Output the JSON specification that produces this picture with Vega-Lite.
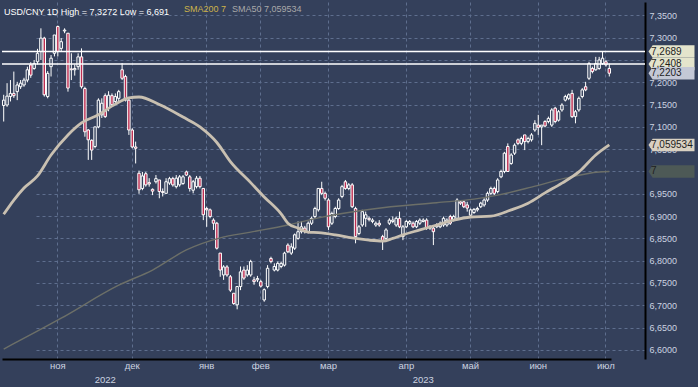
{
  "$schema": "https://vega.github.io/schema/vega-lite/v6.json",
  "width": 643,
  "height": 357,
  "autosize": "none",
  "padding": {"left": 2, "top": 2, "right": 53, "bottom": 28},
  "background": "#34405b",
  "view": {"stroke": null},
  "config": {
    "font": "Liberation Sans",
    "axis": {"title": null}
  },
  "title": {
    "text": "USD/CNY 1D High = 7,3272 Low = 6,691",
    "anchor": "start",
    "frame": "group",
    "offset": -22,
    "baseline": "alphabetic",
    "fontSize": 9,
    "fontWeight": "normal",
    "color": "#ffffff",
    "font": "Liberation Sans",
    "dx": 2
  },
  "datasets": {
    "ohlc": [
      {"date":"2022-10-10","open":7.148,"high":7.172,"low":7.112,"close":7.160},
      {"date":"2022-10-11","open":7.149,"high":7.198,"low":7.145,"close":7.169},
      {"date":"2022-10-12","open":7.168,"high":7.205,"low":7.157,"close":7.175},
      {"date":"2022-10-13","open":7.175,"high":7.224,"low":7.165,"close":7.170},
      {"date":"2022-10-14","open":7.179,"high":7.201,"low":7.160,"close":7.194},
      {"date":"2022-10-17","open":7.190,"high":7.205,"low":7.185,"close":7.198},
      {"date":"2022-10-18","open":7.194,"high":7.210,"low":7.190,"close":7.205},
      {"date":"2022-10-19","open":7.205,"high":7.235,"low":7.200,"close":7.228},
      {"date":"2022-10-20","open":7.239,"high":7.245,"low":7.210,"close":7.216},
      {"date":"2022-10-21","open":7.231,"high":7.250,"low":7.228,"close":7.242},
      {"date":"2022-10-24","open":7.246,"high":7.275,"low":7.240,"close":7.265},
      {"date":"2022-10-25","open":7.269,"high":7.321,"low":7.250,"close":7.299},
      {"date":"2022-10-26","open":7.299,"high":7.302,"low":7.168,"close":7.172},
      {"date":"2022-10-27","open":7.168,"high":7.225,"low":7.164,"close":7.220},
      {"date":"2022-10-28","open":7.235,"high":7.261,"low":7.213,"close":7.254},
      {"date":"2022-10-31","open":7.265,"high":7.306,"low":7.258,"close":7.306},
      {"date":"2022-11-01","open":7.325,"high":7.3272,"low":7.258,"close":7.269},
      {"date":"2022-11-02","open":7.276,"high":7.299,"low":7.269,"close":7.291},
      {"date":"2022-11-03","open":7.315,"high":7.321,"low":7.310,"close":7.317},
      {"date":"2022-11-04","open":7.310,"high":7.310,"low":7.179,"close":7.187},
      {"date":"2022-11-07","open":7.230,"high":7.265,"low":7.205,"close":7.228},
      {"date":"2022-11-08","open":7.228,"high":7.240,"low":7.215,"close":7.231},
      {"date":"2022-11-09","open":7.235,"high":7.265,"low":7.228,"close":7.257},
      {"date":"2022-11-10","open":7.257,"high":7.276,"low":7.186,"close":7.190},
      {"date":"2022-11-11","open":7.186,"high":7.190,"low":7.078,"close":7.089},
      {"date":"2022-11-14","open":7.093,"high":7.095,"low":7.026,"close":7.071},
      {"date":"2022-11-15","open":7.070,"high":7.072,"low":7.026,"close":7.048},
      {"date":"2022-11-16","open":7.056,"high":7.100,"low":7.052,"close":7.100},
      {"date":"2022-11-17","open":7.100,"high":7.164,"low":7.097,"close":7.160},
      {"date":"2022-11-18","open":7.127,"high":7.164,"low":7.120,"close":7.153},
      {"date":"2022-11-21","open":7.170,"high":7.175,"low":7.120,"close":7.123},
      {"date":"2022-11-22","open":7.142,"high":7.180,"low":7.135,"close":7.171},
      {"date":"2022-11-23","open":7.170,"high":7.175,"low":7.145,"close":7.150},
      {"date":"2022-11-24","open":7.157,"high":7.175,"low":7.150,"close":7.168},
      {"date":"2022-11-25","open":7.164,"high":7.183,"low":7.157,"close":7.179},
      {"date":"2022-11-28","open":7.228,"high":7.243,"low":7.205,"close":7.209},
      {"date":"2022-11-29","open":7.213,"high":7.217,"low":7.157,"close":7.160},
      {"date":"2022-11-30","open":7.160,"high":7.164,"low":7.082,"close":7.093},
      {"date":"2022-12-01","open":7.093,"high":7.097,"low":7.052,"close":7.055},
      {"date":"2022-12-02","open":7.055,"high":7.067,"low":7.018,"close":7.052},
      {"date":"2022-12-05","open":6.996,"high":7.002,"low":6.950,"close":6.959},
      {"date":"2022-12-06","open":6.962,"high":6.999,"low":6.958,"close":6.990},
      {"date":"2022-12-07","open":6.995,"high":6.999,"low":6.966,"close":6.970},
      {"date":"2022-12-08","open":6.975,"high":6.985,"low":6.966,"close":6.972},
      {"date":"2022-12-09","open":6.960,"high":6.962,"low":6.947,"close":6.956},
      {"date":"2022-12-12","open":6.977,"high":6.992,"low":6.973,"close":6.984},
      {"date":"2022-12-13","open":6.981,"high":6.981,"low":6.940,"close":6.955},
      {"date":"2022-12-14","open":6.955,"high":6.962,"low":6.944,"close":6.953},
      {"date":"2022-12-15","open":6.951,"high":6.985,"low":6.951,"close":6.977},
      {"date":"2022-12-16","open":6.974,"high":6.988,"low":6.970,"close":6.984},
      {"date":"2022-12-19","open":6.984,"high":6.988,"low":6.966,"close":6.970},
      {"date":"2022-12-20","open":6.966,"high":6.992,"low":6.962,"close":6.985},
      {"date":"2022-12-21","open":6.970,"high":6.992,"low":6.966,"close":6.988},
      {"date":"2022-12-22","open":6.973,"high":6.992,"low":6.970,"close":6.988},
      {"date":"2022-12-23","open":6.999,"high":7.002,"low":6.990,"close":6.992},
      {"date":"2022-12-26","open":6.988,"high":6.992,"low":6.955,"close":6.962},
      {"date":"2022-12-27","open":6.958,"high":6.981,"low":6.951,"close":6.977},
      {"date":"2022-12-28","open":6.966,"high":6.990,"low":6.962,"close":6.985},
      {"date":"2022-12-29","open":6.985,"high":6.990,"low":6.962,"close":6.966},
      {"date":"2022-12-30","open":6.962,"high":6.962,"low":6.891,"close":6.903},
      {"date":"2023-01-03","open":6.917,"high":6.921,"low":6.876,"close":6.914},
      {"date":"2023-01-04","open":6.914,"high":6.917,"low":6.895,"close":6.899},
      {"date":"2023-01-05","open":6.891,"high":6.895,"low":6.869,"close":6.884},
      {"date":"2023-01-06","open":6.884,"high":6.887,"low":6.825,"close":6.828},
      {"date":"2023-01-09","open":6.817,"high":6.817,"low":6.764,"close":6.779},
      {"date":"2023-01-10","open":6.768,"high":6.790,"low":6.757,"close":6.786},
      {"date":"2023-01-11","open":6.786,"high":6.790,"low":6.764,"close":6.768},
      {"date":"2023-01-12","open":6.764,"high":6.768,"low":6.730,"close":6.734},
      {"date":"2023-01-13","open":6.727,"high":6.727,"low":6.701,"close":6.704},
      {"date":"2023-01-16","open":6.701,"high":6.742,"low":6.691,"close":6.742},
      {"date":"2023-01-17","open":6.742,"high":6.787,"low":6.734,"close":6.775},
      {"date":"2023-01-18","open":6.779,"high":6.787,"low":6.757,"close":6.761},
      {"date":"2023-01-19","open":6.768,"high":6.790,"low":6.764,"close":6.779},
      {"date":"2023-01-20","open":6.768,"high":6.802,"low":6.764,"close":6.798},
      {"date":"2023-01-30","open":6.757,"high":6.764,"low":6.746,"close":6.753},
      {"date":"2023-01-31","open":6.757,"high":6.766,"low":6.752,"close":6.760},
      {"date":"2023-02-01","open":6.753,"high":6.757,"low":6.740,"close":6.743},
      {"date":"2023-02-02","open":6.712,"high":6.738,"low":6.708,"close":6.735},
      {"date":"2023-02-03","open":6.742,"high":6.790,"low":6.738,"close":6.783},
      {"date":"2023-02-06","open":6.805,"high":6.809,"low":6.794,"close":6.798},
      {"date":"2023-02-07","open":6.779,"high":6.794,"low":6.776,"close":6.787},
      {"date":"2023-02-08","open":6.779,"high":6.798,"low":6.776,"close":6.794},
      {"date":"2023-02-09","open":6.787,"high":6.798,"low":6.783,"close":6.794},
      {"date":"2023-02-10","open":6.790,"high":6.820,"low":6.787,"close":6.817},
      {"date":"2023-02-13","open":6.835,"high":6.839,"low":6.817,"close":6.820},
      {"date":"2023-02-14","open":6.817,"high":6.839,"low":6.813,"close":6.831},
      {"date":"2023-02-15","open":6.828,"high":6.861,"low":6.824,"close":6.858},
      {"date":"2023-02-16","open":6.850,"high":6.888,"low":6.847,"close":6.865},
      {"date":"2023-02-17","open":6.865,"high":6.888,"low":6.861,"close":6.876},
      {"date":"2023-02-20","open":6.873,"high":6.878,"low":6.861,"close":6.865},
      {"date":"2023-02-21","open":6.865,"high":6.888,"low":6.861,"close":6.884},
      {"date":"2023-02-22","open":6.884,"high":6.899,"low":6.880,"close":6.895},
      {"date":"2023-02-23","open":6.899,"high":6.921,"low":6.895,"close":6.917},
      {"date":"2023-02-24","open":6.914,"high":6.962,"low":6.910,"close":6.962},
      {"date":"2023-02-27","open":6.962,"high":6.977,"low":6.947,"close":6.951},
      {"date":"2023-02-28","open":6.951,"high":6.955,"low":6.935,"close":6.940},
      {"date":"2023-03-01","open":6.936,"high":6.940,"low":6.869,"close":6.876},
      {"date":"2023-03-02","open":6.884,"high":6.910,"low":6.880,"close":6.906},
      {"date":"2023-03-03","open":6.899,"high":6.921,"low":6.895,"close":6.917},
      {"date":"2023-03-06","open":6.917,"high":6.940,"low":6.914,"close":6.936},
      {"date":"2023-03-07","open":6.944,"high":6.970,"low":6.940,"close":6.966},
      {"date":"2023-03-08","open":6.977,"high":6.981,"low":6.959,"close":6.962},
      {"date":"2023-03-09","open":6.962,"high":6.974,"low":6.958,"close":6.970},
      {"date":"2023-03-10","open":6.970,"high":6.974,"low":6.918,"close":6.921},
      {"date":"2023-03-13","open":6.917,"high":6.921,"low":6.839,"close":6.854},
      {"date":"2023-03-14","open":6.861,"high":6.880,"low":6.857,"close":6.876},
      {"date":"2023-03-15","open":6.880,"high":6.914,"low":6.876,"close":6.910},
      {"date":"2023-03-16","open":6.895,"high":6.910,"low":6.876,"close":6.903},
      {"date":"2023-03-17","open":6.895,"high":6.899,"low":6.888,"close":6.892},
      {"date":"2023-03-20","open":6.888,"high":6.895,"low":6.884,"close":6.891},
      {"date":"2023-03-21","open":6.880,"high":6.888,"low":6.876,"close":6.884},
      {"date":"2023-03-22","open":6.884,"high":6.891,"low":6.876,"close":6.880},
      {"date":"2023-03-23","open":6.854,"high":6.858,"low":6.824,"close":6.843},
      {"date":"2023-03-24","open":6.850,"high":6.873,"low":6.846,"close":6.869},
      {"date":"2023-03-27","open":6.884,"high":6.895,"low":6.880,"close":6.891},
      {"date":"2023-03-28","open":6.888,"high":6.899,"low":6.884,"close":6.891},
      {"date":"2023-03-29","open":6.880,"high":6.899,"low":6.876,"close":6.895},
      {"date":"2023-03-30","open":6.895,"high":6.910,"low":6.873,"close":6.876},
      {"date":"2023-03-31","open":6.854,"high":6.880,"low":6.846,"close":6.876},
      {"date":"2023-04-03","open":6.876,"high":6.891,"low":6.873,"close":6.888},
      {"date":"2023-04-04","open":6.884,"high":6.891,"low":6.880,"close":6.888},
      {"date":"2023-04-06","open":6.884,"high":6.888,"low":6.873,"close":6.876},
      {"date":"2023-04-07","open":6.876,"high":6.891,"low":6.873,"close":6.888},
      {"date":"2023-04-10","open":6.884,"high":6.895,"low":6.880,"close":6.891},
      {"date":"2023-04-11","open":6.888,"high":6.895,"low":6.886,"close":6.891},
      {"date":"2023-04-12","open":6.891,"high":6.895,"low":6.869,"close":6.873},
      {"date":"2023-04-13","open":6.873,"high":6.880,"low":6.869,"close":6.876},
      {"date":"2023-04-14","open":6.873,"high":6.876,"low":6.835,"close":6.865},
      {"date":"2023-04-17","open":6.876,"high":6.884,"low":6.873,"close":6.880},
      {"date":"2023-04-18","open":6.876,"high":6.888,"low":6.873,"close":6.884},
      {"date":"2023-04-19","open":6.880,"high":6.899,"low":6.876,"close":6.895},
      {"date":"2023-04-20","open":6.880,"high":6.895,"low":6.876,"close":6.891},
      {"date":"2023-04-21","open":6.899,"high":6.903,"low":6.880,"close":6.884},
      {"date":"2023-04-24","open":6.891,"high":6.903,"low":6.888,"close":6.899},
      {"date":"2023-04-25","open":6.895,"high":6.940,"low":6.891,"close":6.936},
      {"date":"2023-04-26","open":6.932,"high":6.936,"low":6.925,"close":6.929},
      {"date":"2023-04-27","open":6.932,"high":6.936,"low":6.918,"close":6.921},
      {"date":"2023-04-28","open":6.925,"high":6.932,"low":6.910,"close":6.918},
      {"date":"2023-05-04","open":6.902,"high":6.917,"low":6.900,"close":6.914},
      {"date":"2023-05-05","open":6.908,"high":6.918,"low":6.905,"close":6.915},
      {"date":"2023-05-08","open":6.914,"high":6.921,"low":6.910,"close":6.917},
      {"date":"2023-05-09","open":6.921,"high":6.932,"low":6.918,"close":6.929},
      {"date":"2023-05-10","open":6.925,"high":6.940,"low":6.921,"close":6.936},
      {"date":"2023-05-11","open":6.936,"high":6.955,"low":6.932,"close":6.951},
      {"date":"2023-05-12","open":6.951,"high":6.966,"low":6.947,"close":6.962},
      {"date":"2023-05-15","open":6.962,"high":6.966,"low":6.947,"close":6.951},
      {"date":"2023-05-16","open":6.955,"high":6.985,"low":6.951,"close":6.981},
      {"date":"2023-05-17","open":6.988,"high":7.004,"low":6.985,"close":7.000},
      {"date":"2023-05-18","open":7.000,"high":7.044,"low":6.996,"close":7.041},
      {"date":"2023-05-19","open":7.056,"high":7.063,"low":7.000,"close":7.000},
      {"date":"2023-05-22","open":7.018,"high":7.041,"low":7.015,"close":7.037},
      {"date":"2023-05-23","open":7.041,"high":7.063,"low":7.037,"close":7.059},
      {"date":"2023-05-24","open":7.071,"high":7.074,"low":7.059,"close":7.063},
      {"date":"2023-05-25","open":7.063,"high":7.078,"low":7.059,"close":7.074},
      {"date":"2023-05-26","open":7.082,"high":7.082,"low":7.048,"close":7.067},
      {"date":"2023-05-29","open":7.067,"high":7.078,"low":7.063,"close":7.074},
      {"date":"2023-05-30","open":7.071,"high":7.086,"low":7.067,"close":7.082},
      {"date":"2023-05-31","open":7.093,"high":7.115,"low":7.089,"close":7.108},
      {"date":"2023-06-01","open":7.104,"high":7.127,"low":7.082,"close":7.099},
      {"date":"2023-06-02","open":7.100,"high":7.104,"low":7.059,"close":7.104},
      {"date":"2023-06-05","open":7.112,"high":7.115,"low":7.099,"close":7.102},
      {"date":"2023-06-06","open":7.112,"high":7.123,"low":7.108,"close":7.119},
      {"date":"2023-06-07","open":7.104,"high":7.142,"low":7.100,"close":7.138},
      {"date":"2023-06-08","open":7.142,"high":7.145,"low":7.108,"close":7.112},
      {"date":"2023-06-09","open":7.115,"high":7.138,"low":7.112,"close":7.134},
      {"date":"2023-06-12","open":7.138,"high":7.153,"low":7.134,"close":7.149},
      {"date":"2023-06-13","open":7.160,"high":7.172,"low":7.157,"close":7.168},
      {"date":"2023-06-14","open":7.164,"high":7.175,"low":7.160,"close":7.172},
      {"date":"2023-06-15","open":7.175,"high":7.183,"low":7.120,"close":7.123},
      {"date":"2023-06-16","open":7.123,"high":7.138,"low":7.108,"close":7.134},
      {"date":"2023-06-19","open":7.138,"high":7.168,"low":7.134,"close":7.164},
      {"date":"2023-06-20","open":7.168,"high":7.187,"low":7.164,"close":7.183},
      {"date":"2023-06-21","open":7.190,"high":7.201,"low":7.180,"close":7.183},
      {"date":"2023-06-26","open":7.209,"high":7.246,"low":7.205,"close":7.242},
      {"date":"2023-06-27","open":7.231,"high":7.235,"low":7.220,"close":7.224},
      {"date":"2023-06-28","open":7.228,"high":7.257,"low":7.226,"close":7.242},
      {"date":"2023-06-29","open":7.231,"high":7.257,"low":7.228,"close":7.250},
      {"date":"2023-06-30","open":7.242,"high":7.269,"low":7.239,"close":7.254},
      {"date":"2023-07-03","open":7.246,"high":7.250,"low":7.235,"close":7.239},
      {"date":"2023-07-04","open":7.231,"high":7.242,"low":7.213,"close":7.2203}
    ],
    "sma": [
      {"date":"2022-10-10","series":"SMA50","value":6.904},
      {"date":"2022-10-13","series":"SMA50","value":6.936},
      {"date":"2022-10-18","series":"SMA50","value":6.963},
      {"date":"2022-10-24","series":"SMA50","value":6.990},
      {"date":"2022-10-28","series":"SMA50","value":7.037},
      {"date":"2022-11-04","series":"SMA50","value":7.082},
      {"date":"2022-11-10","series":"SMA50","value":7.109},
      {"date":"2022-11-17","series":"SMA50","value":7.127},
      {"date":"2022-11-24","series":"SMA50","value":7.151},
      {"date":"2022-11-30","series":"SMA50","value":7.165},
      {"date":"2022-12-05","series":"SMA50","value":7.167},
      {"date":"2022-12-13","series":"SMA50","value":7.150},
      {"date":"2022-12-22","series":"SMA50","value":7.122},
      {"date":"2022-12-29","series":"SMA50","value":7.100},
      {"date":"2023-01-06","series":"SMA50","value":7.065},
      {"date":"2023-01-12","series":"SMA50","value":7.022},
      {"date":"2023-01-20","series":"SMA50","value":6.975},
      {"date":"2023-02-02","series":"SMA50","value":6.943},
      {"date":"2023-02-09","series":"SMA50","value":6.905},
      {"date":"2023-02-13","series":"SMA50","value":6.884},
      {"date":"2023-02-16","series":"SMA50","value":6.873},
      {"date":"2023-02-21","series":"SMA50","value":6.864},
      {"date":"2023-02-24","series":"SMA50","value":6.863},
      {"date":"2023-03-03","series":"SMA50","value":6.858},
      {"date":"2023-03-10","series":"SMA50","value":6.851},
      {"date":"2023-03-17","series":"SMA50","value":6.846},
      {"date":"2023-03-23","series":"SMA50","value":6.844},
      {"date":"2023-03-28","series":"SMA50","value":6.850},
      {"date":"2023-03-31","series":"SMA50","value":6.858},
      {"date":"2023-04-10","series":"SMA50","value":6.869},
      {"date":"2023-04-17","series":"SMA50","value":6.880},
      {"date":"2023-04-24","series":"SMA50","value":6.891},
      {"date":"2023-05-04","series":"SMA50","value":6.898},
      {"date":"2023-05-12","series":"SMA50","value":6.900},
      {"date":"2023-05-22","series":"SMA50","value":6.914},
      {"date":"2023-05-29","series":"SMA50","value":6.929},
      {"date":"2023-06-05","series":"SMA50","value":6.952},
      {"date":"2023-06-12","series":"SMA50","value":6.974},
      {"date":"2023-06-19","series":"SMA50","value":6.999},
      {"date":"2023-06-28","series":"SMA50","value":7.037},
      {"date":"2023-07-04","series":"SMA50","value":7.059534},
      {"date":"2022-10-10","series":"SMA200","value":6.602},
      {"date":"2022-11-02","series":"SMA200","value":6.671},
      {"date":"2022-11-25","series":"SMA200","value":6.745},
      {"date":"2022-12-09","series":"SMA200","value":6.779},
      {"date":"2022-12-23","series":"SMA200","value":6.824},
      {"date":"2023-01-09","series":"SMA200","value":6.851},
      {"date":"2023-01-20","series":"SMA200","value":6.864},
      {"date":"2023-02-13","series":"SMA200","value":6.880},
      {"date":"2023-02-24","series":"SMA200","value":6.896},
      {"date":"2023-03-20","series":"SMA200","value":6.916},
      {"date":"2023-04-17","series":"SMA200","value":6.930},
      {"date":"2023-05-05","series":"SMA200","value":6.938},
      {"date":"2023-05-16","series":"SMA200","value":6.947},
      {"date":"2023-05-30","series":"SMA200","value":6.965},
      {"date":"2023-06-13","series":"SMA200","value":6.985},
      {"date":"2023-06-29","series":"SMA200","value":6.999},
      {"date":"2023-07-04","series":"SMA200","value":7.000}
    ],
    "levels": [
      {"value": 7.2689},
      {"value": 7.2408}
    ],
    "badges": [
      {"label": "7,2689", "value": 7.2689, "kind": "level"},
      {"label": "7,2408", "value": 7.2408, "kind": "level"},
      {"label": "7,2203", "value": 7.2203, "kind": "last"},
      {"label": "7,059534", "value": 7.059534, "kind": "sma50"},
      {"label": "7", "value": 7.0, "kind": "sma200"}
    ]
  },
  "layer": [
    {
      "mark": {"type": "rect", "color": "#3d4a68"},
      "encoding": {"x": {"value": -2}, "x2": {"value": 643}, "y": {"value": 358}, "y2": {"value": 385}}
    },
    {
      "mark": {"type": "rect", "color": "#4a5876"},
      "encoding": {"x": {"value": 0}, "x2": {"value": 203.5}, "y": {"value": 370}, "y2": {"value": 384}}
    },
    {
      "mark": {"type": "rect", "color": "#2c3650"},
      "encoding": {"x": {"value": 631}, "x2": {"value": 642}, "y": {"value": 359}, "y2": {"value": 384}}
    },
    {
      "mark": {"type": "rule", "color": "#000000", "strokeWidth": 2},
      "encoding": {"x": {"value": 643}, "y": {"value": 356}, "y2": {"value": 385}}
    },
    {
      "data": {"name": "ohlc"},
      "mark": {"type": "rule", "color": "#ffffff", "strokeWidth": 1},
      "encoding": {
        "x": {
          "field": "date",
          "type": "ordinal",
          "scale": {"paddingInner": 0, "paddingOuter": 0, "rangeMax": 609},
          "axis": {
            "orient": "bottom",
            "values": ["2022-11-01","2022-12-01","2023-01-03","2023-02-01","2023-03-01","2023-04-03","2023-05-04","2023-06-01","2023-07-03"],
            "grid": true,
            "gridColor": "#5e6e8e",
            "gridDash": [3, 3],
            "ticks": false,
            "labels": false,
            "domain": false,
            "zindex": 0
          }
        },
        "y": {
          "field": "low",
          "type": "quantitative",
          "scale": {"domain": [6.5796, 7.38], "zero": false, "nice": false},
          "axis": {
            "orient": "right",
            "values": [6.6, 6.65, 6.7, 6.75, 6.8, 6.85, 6.9, 6.95, 7, 7.05, 7.1, 7.15, 7.2, 7.25, 7.3, 7.35],
            "tickCount": 16,
            "labelExpr": "(abs(datum.value - 7.25) < 0.001 || abs(datum.value - 7) < 0.001) ? '' : replace(format(datum.value, '.4f'), '.', ',')",
            "labelOverlap": false,
            "grid": true,
            "gridColor": "#5e6e8e",
            "gridDash": [3, 3],
            "ticks": false,
            "domainColor": "#000000",
            "domainWidth": 2,
            "labelColor": "#ccd3e0",
            "labelFontSize": 9,
            "labelPadding": 4,
            "labelAlign": "left"
          }
        },
        "y2": {"field": "high"}
      }
    },
    {
      "data": {"name": "ohlc"},
      "mark": {"type": "bar", "width": {"band": 0.72}, "stroke": "#ffffff", "strokeWidth": 1},
      "encoding": {
        "x": {"field": "date", "type": "ordinal", "axis": null},
        "y": {"field": "open", "type": "quantitative"},
        "y2": {"field": "close"},
        "fill": {
          "condition": {"test": "datum.close < datum.open", "value": "#bd2d51"},
          "value": "#34405b"
        }
      }
    },
    {
      "data": {"name": "levels"},
      "mark": {"type": "rule", "color": "#ffffff", "strokeWidth": 1.5},
      "encoding": {
        "y": {"field": "value", "type": "quantitative"}
      }
    },
    {
      "data": {"name": "sma"},
      "transform": [{"filter": "datum.series === 'SMA200'"}],
      "mark": {"type": "line", "strokeWidth": 1.4, "interpolate": "monotone"},
      "encoding": {
        "x": {
          "field": "date",
          "type": "ordinal",
          "axis": {
            "orient": "bottom",
            "values": ["2022-11-01","2022-12-01","2023-01-03","2023-02-01","2023-03-01","2023-04-03","2023-05-04","2023-06-01","2023-07-03"],
            "labelExpr": "['янв','фев','мар','апр','май','июн','июл','авг','сен','окт','ноя','дек'][toNumber(substring(datum.value,5,7))-1]",
            "grid": false,
            "ticks": false,
            "domainColor": "#000000",
            "domainWidth": 2,
            "labelColor": "#ccd3e0",
            "labelFontSize": 9.5,
            "labelPadding": 1,
            "labelAngle": 0,
            "labelOverlap": false,
            "zindex": 1
          }
        },
        "y": {"field": "value", "type": "quantitative"},
        "color": {
          "field": "series",
          "type": "nominal",
          "scale": {"domain": ["SMA200", "SMA50"], "range": ["#6c6f68", "#c9c0b1"]},
          "legend": {
            "orient": "none",
            "legendX": 173,
            "legendY": 2,
            "direction": "horizontal",
            "gridAlign": "none",
            "title": null,
            "symbolSize": 0,
            "symbolOpacity": 0,
            "symbolStrokeWidth": 0,
            "labelOffset": 0,
            "labelFontSize": 9,
            "labelFont": "Liberation Sans",
            "columnPadding": -4,
            "labelColor": {"expr": "datum.value === 'SMA200' ? '#cdb44a' : '#a9a9a9'"},
            "labelExpr": "datum.label == 'SMA200' ? 'SMA200 7' : 'SMA50 7,059534'"
          }
        }
      }
    },
    {
      "data": {"name": "sma"},
      "transform": [{"filter": "datum.series === 'SMA50'"}],
      "mark": {"type": "line", "strokeWidth": 2.8, "interpolate": "monotone"},
      "encoding": {
        "x": {
          "field": "date",
          "type": "ordinal",
          "axis": {
            "orient": "bottom",
            "values": ["2022-11-21", "2023-04-11"],
            "labelExpr": "substring(datum.value, 0, 4)",
            "offset": 13,
            "grid": false,
            "ticks": false,
            "domain": false,
            "labelColor": "#ccd3e0",
            "labelFontSize": 9.5,
            "labelPadding": 2,
            "labelAngle": 0,
            "zindex": 1
          }
        },
        "y": {"field": "value", "type": "quantitative"},
        "color": {"field": "series", "type": "nominal"}
      }
    },
    {
      "data": {"name": "badges"},
      "mark": {"type": "point", "shape": "M-1,0 L-0.82,-0.27 L1,-0.27 L1,0.27 L-0.82,0.27 Z", "filled": true, "size": 2116, "opacity": 1, "strokeWidth": 0},
      "encoding": {
        "x": {"value": 669.5},
        "y": {"field": "value", "type": "quantitative"},
        "fill": {
          "field": "kind",
          "type": "nominal",
          "scale": {"domain": ["level", "last", "sma50", "sma200"], "range": ["#e4e4cc", "#c4c8d6", "#d9d1c2", "#4d5956"]},
          "legend": null
        }
      }
    },
    {
      "data": {"name": "badges"},
      "mark": {"type": "text", "align": "left", "baseline": "middle", "fontSize": 10, "color": "#1e1e1e", "font": "Liberation Sans"},
      "encoding": {
        "x": {"value": 649},
        "y": {"field": "value", "type": "quantitative"},
        "text": {"field": "label"}
      }
    },
    {
      "mark": {"type": "text", "text": "10", "fontSize": 10, "color": "#d8dde8", "align": "center", "baseline": "middle"},
      "encoding": {"x": {"value": 618}, "y": {"value": 350}}
    },
    {
      "mark": {"type": "text", "text": "10906", "fontSize": 9.5, "color": "#ccd3e0", "align": "center", "baseline": "middle"},
      "encoding": {"x": {"value": 673}, "y": {"value": 364}}
    },
    {
      "mark": {"type": "text", "text": ">190<", "fontSize": 9.5, "color": "#ccd3e0", "align": "center", "baseline": "middle"},
      "encoding": {"x": {"value": 673}, "y": {"value": 379}}
    }
  ],
  "resolve": {"axis": {"x": "independent"}}
}
